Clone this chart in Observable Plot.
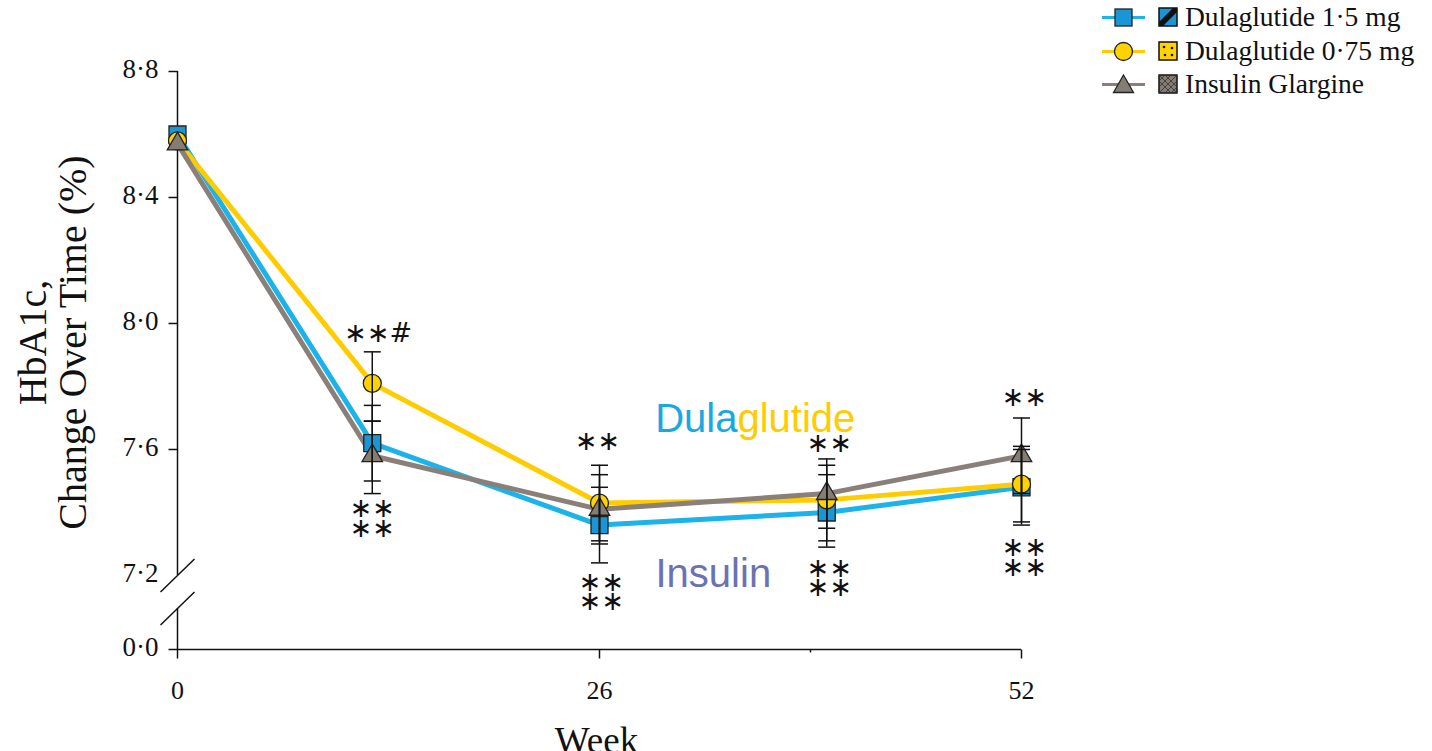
<!DOCTYPE html>
<html><head><meta charset="utf-8">
<script src="https://cdn.jsdelivr.net/npm/d3@7"></script>
<script src="https://cdn.jsdelivr.net/npm/@observablehq/plot@0.6"></script>
<style>
body{margin:0;background:#fff;}
#wrap{position:relative;width:1432px;height:751px;overflow:hidden;background:#fff;}
#legend{position:absolute;left:1102px;top:0;font-family:"Liberation Serif",serif;font-size:27.5px;color:#111;}
.row{position:absolute;left:0;height:34px;display:flex;align-items:center;white-space:nowrap;}
</style></head><body><div id="wrap"><div id="chart"></div><div id="legend"></div></div>
<script>
// ---- data ----
const weeks = [0, 12, 26, 40, 52];
const dula15 = [8.60, 7.62, 7.36, 7.40, 7.48];
const dula075 = [8.58, 7.81, 7.43, 7.44, 7.49];
const glargine = [8.57, 7.58, 7.41, 7.46, 7.58];
const dula15Lo = [null, 7.50, 7.24, 7.29, 7.36];
const dula15Hi = [null, 7.74, 7.48, 7.52, 7.60];
const dula075Lo = [null, 7.69, 7.31, 7.31, 7.37];
const dula075Hi = [null, 7.91, 7.55, 7.55, 7.61];
const glargineLo = [null, 7.46, 7.30, 7.35, 7.46];
const glargineHi = [null, 7.69, 7.52, 7.57, 7.70];
const seriesNames = ["Dulaglutide 1·5 mg", "Dulaglutide 0·75 mg", "Insulin Glargine"];

const xTickValues = [0, 26, 52];
const xTickLabels = ["0", "26", "52"];
const xMinorTicks = [39];
const yTickValues = [0, 7.2, 7.6, 8.0, 8.4, 8.8];
const yTickLabels = ["0·0", "7·2", "7·6", "8·0", "8·4", "8·8"];

const annWeek = [12.37, 12, 12, 25.88, 26.12, 26.12, 40.17, 40.17, 40.17, 52.18, 52.18, 52.18];
const annValue = [7.968, 7.413, 7.349, 7.625, 7.178, 7.117, 7.619, 7.222, 7.162, 7.765, 7.289, 7.225];
const annText = ["∗∗#", "∗∗", "∗∗", "∗∗", "∗∗", "∗∗", "∗∗", "∗∗", "∗∗", "∗∗", "∗∗", "∗∗"];

// ---- styles ----
const styles = [
  {line: "#1cb2ea", fill: "#1a96d4", symbol: "square", r: 9.6},
  {line: "#ffcc00", fill: "#ffd200", symbol: "circle", r: 9},
  {line: "#8a8079", fill: "#857c74", symbol: "triangle", r: 7.6}
];
const axisFloor = 6.965;      // plotted position of the 0·0 tick below the break
const breakGapBottom = 7.095; // where the axis resumes below the break
const toPlot = v => v === 0 ? axisFloor : v;

const values = [dula15, dula075, glargine];
const los = [dula15Lo, dula075Lo, glargineLo];
const his = [dula15Hi, dula075Hi, glargineHi];
const rows = [];
seriesNames.forEach((s, k) => weeks.forEach((w, i) => rows.push({series: s, k, week: w, value: values[k][i], lo: los[k][i], hi: his[k][i]})));
const errRows = rows.filter(d => d.lo != null);
const ann = annText.map((t, i) => ({week: annWeek[i], value: annValue[i], text: t}));

const capSym = {draw(ctx) { ctx.moveTo(-8.5, 0); ctx.lineTo(8.5, 0); }};
const yTickSym = {draw(ctx) { ctx.moveTo(-9, 0); ctx.lineTo(0, 0); }};
const xTickSym = {draw(ctx) { ctx.moveTo(0, 0); ctx.lineTo(0, 9); }};
const xMinorSym = {draw(ctx) { ctx.moveTo(0, 0); ctx.lineTo(0, 3); }};
const breakSym = {draw(ctx) { ctx.moveTo(-17, 16.5); ctx.lineTo(17, -16.5); }};

const marks = [
  Plot.ruleX([0], {y1: 7.2, y2: 8.8, stroke: "#111", strokeWidth: 1.5}),
  Plot.ruleX([0], {y1: axisFloor, y2: breakGapBottom, stroke: "#111", strokeWidth: 1.5}),
  Plot.ruleY([axisFloor], {x1: 0, x2: 52, stroke: "#111", strokeWidth: 1.5}),
  Plot.dot([7.2, breakGapBottom], {x: 0, y: d => d, symbol: breakSym, stroke: "#111", strokeWidth: 1.5, fill: "none"}),
  Plot.dot(yTickValues.filter(v => v !== 7.2), {x: 0, y: d => toPlot(d), symbol: yTickSym, stroke: "#111", strokeWidth: 1.5, fill: "none"}),
  Plot.text(yTickValues, {x: 0, y: d => toPlot(d), text: (d, i) => yTickLabels[i], textAnchor: "end", dx: -19, dy: -2, fontSize: 27, fill: "#111"}),
  Plot.dot(xTickValues, {x: d => d, y: axisFloor, symbol: xTickSym, stroke: "#111", strokeWidth: 1.5, fill: "none"}),
  Plot.dot(xMinorTicks, {x: d => d, y: axisFloor, symbol: xMinorSym, stroke: "#111", strokeWidth: 1.5, fill: "none"}),
  Plot.text(xTickValues, {x: d => d, y: axisFloor, text: (d, i) => xTickLabels[i], dy: 41, fontSize: 26, fill: "#111"}),
  Plot.text(["Week"], {x: 26, frameAnchor: "bottom", lineAnchor: "top", dy: 77, dx: -3, fontSize: 37, fill: "#111"}),
  Plot.text(["HbA1c,\nChange Over Time (%)"], {frameAnchor: "left", textAnchor: "middle", lineAnchor: "middle", rotate: -90, lineHeight: 1.0, fontSize: 40, dx: -124, dy: -18, fill: "#111"}),
];
styles.forEach((st, k) => {
  marks.push(Plot.line(rows.filter(d => d.k === k), {x: "week", y: "value", stroke: st.line, strokeWidth: 5}));
});
styles.forEach((st, k) => {
  marks.push(Plot.dot(rows.filter(d => d.k === k), {x: "week", y: "value", symbol: st.symbol, r: st.r, fill: st.fill, stroke: "#222", strokeWidth: 1.3}));
});
marks.push(
  Plot.ruleX(errRows, {x: "week", y1: "lo", y2: "hi", stroke: "#111", strokeWidth: 1.5}),
  Plot.dot(errRows, {x: "week", y: "lo", symbol: capSym, stroke: "#111", strokeWidth: 1.5, fill: "none"}),
  Plot.dot(errRows, {x: "week", y: "hi", symbol: capSym, stroke: "#111", strokeWidth: 1.5, fill: "none"}),
  Plot.text(ann, {x: "week", y: "value", text: "text", fontFamily: "DejaVu Sans", fontSize: 27, fill: "#111"}),
  Plot.text(["Dula"], {x: 34.5, y: 7.657, textAnchor: "end", lineAnchor: "bottom", fontFamily: "Liberation Sans", fontSize: 40, fill: "#1aa8e0"}),
  Plot.text(["glutide"], {x: 34.5, y: 7.657, textAnchor: "start", lineAnchor: "bottom", fontFamily: "Liberation Sans", fontSize: 40, fill: "#ffcc00"}),
  Plot.text(["Insulin"], {x: 29.45, y: 7.162, textAnchor: "start", lineAnchor: "bottom", fontFamily: "Liberation Sans", fontSize: 40, fill: "#6b72b4"})
);

const chart = Plot.plot({
  width: 1432, height: 751,
  marginLeft: 177, marginRight: 411, marginTop: 71, marginBottom: 102,
  x: {domain: [0, 52], axis: null},
  y: {domain: [axisFloor, 8.8], axis: null},
  style: {fontFamily: "Liberation Serif", fontSize: "24px", background: "white", overflow: "visible"},
  marks
});
document.getElementById("chart").append(chart);

// ---- legend ----
const patches = [
  `<rect x="1" y="1" width="18" height="18" fill="#1a96d4" stroke="#111" stroke-width="1.5"/><polygon points="1,15 15,1 19,1 19,5 5,19 1,19" fill="#111"/>`,
  `<rect x="1" y="1" width="18" height="18" fill="#ffd200" stroke="#111" stroke-width="1.5"/><circle cx="6" cy="6" r="1.3" fill="#111"/><circle cx="14" cy="7" r="1.3" fill="#111"/><circle cx="7" cy="14" r="1.3" fill="#111"/><circle cx="14" cy="14" r="1.3" fill="#111"/>`,
  `<rect x="1" y="1" width="18" height="18" fill="#857c74" stroke="#111" stroke-width="1.5"/><path d="M1,7 L7,1 M1,13 L13,1 M1,19 L19,1 M7,19 L19,7 M13,19 L19,13 M1,7 L13,19 M1,1 L19,19 M7,1 L19,13" stroke="#333" stroke-width="0.8"/>`
];
const markerSvg = [
  `<rect x="13" y="7" width="17" height="17" fill="#1a96d4" stroke="#222" stroke-width="1.3"/>`,
  `<circle cx="21.5" cy="15.5" r="9" fill="#ffd200" stroke="#222" stroke-width="1.3"/>`,
  `<polygon points="21.5,6 31.5,23.5 11.5,23.5" fill="#857c74" stroke="#222" stroke-width="1.3"/>`
];
const legendRowsY = [0, 34, 67];
const legend = document.getElementById("legend");
seriesNames.forEach((name, k) => {
  const row = document.createElement("div");
  row.className = "row";
  row.style.top = legendRowsY[k] + "px";
  row.innerHTML = `<svg width="44" height="31" style="margin-right:12px"><line x1="0" y1="15.5" x2="43" y2="15.5" stroke="${styles[k].line}" stroke-width="3"/>${markerSvg[k]}</svg>` +
    `<svg width="20" height="20" style="margin-right:7px">${patches[k]}</svg><span>${name}</span>`;
  legend.append(row);
});
</script></body></html>
